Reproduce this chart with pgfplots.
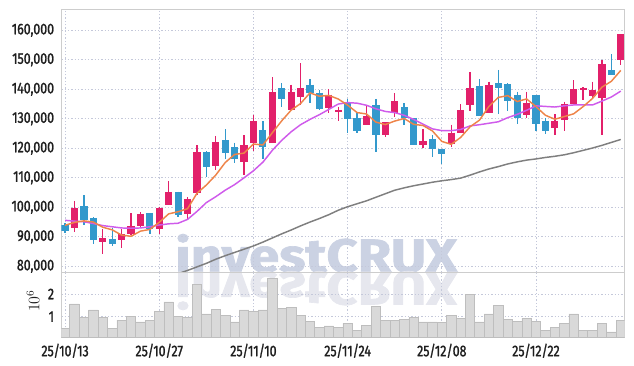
\documentclass[border=0pt]{standalone}
\usepackage{pgfplots}
\pgfplotsset{compat=1.18}
\usepackage{pgfplotstable}
\usepackage{graphicx}
\usepackage{fontspec}
\setmainfont{Fira Sans}[FakeStretch=0.8, FakeBold=1.4]

\definecolor{upc}{RGB}{226,32,106}
\definecolor{dnc}{RGB}{51,153,204}
\definecolor{maf}{RGB}{238,132,73}
\definecolor{mam}{RGB}{207,91,235}
\definecolor{mal}{RGB}{127,127,127}
\definecolor{volfill}{RGB}{217,217,217}
\definecolor{voldraw}{RGB}{190,190,190}
\definecolor{gridc}{RGB}{196,200,218}
\definecolor{framec}{RGB}{205,205,205}
\definecolor{labc}{RGB}{30,30,30}
\definecolor{wm}{RGB}{203,210,227}
\definecolor{wmr}{RGB}{230,231,238}

\pgfplotstableread{
i o h l c
1 93100 102200 91600 99800
4 88300 92500 84200 89600
6 89000 92500 86100 90900
7 91100 98000 90500 93700
8 93700 98400 93000 97700
10 92500 100200 91000 99800
11 100900 109000 100900 105200
13 97700 103400 96000 102800
14 105000 121000 104100 118700
16 114000 124200 112500 122100
19 115300 124400 111100 121000
20 121900 131400 119200 129200
22 121900 144100 121900 139100
24 133000 141600 133000 139100
25 137500 148800 134600 140400
28 133700 140000 131900 138200
29 132300 134100 129200 133000
32 127800 134800 127800 131000
34 124400 128900 123700 128900
35 131900 138600 130700 135900
38 121200 126400 120100 122400
41 121500 128000 120500 125300
42 125100 135000 125100 133000
43 134800 145900 132600 140400
45 132000 142600 132000 141400
49 131300 139200 130200 135400
52 126800 131500 124500 129300
53 129500 135800 125900 134900
54 135100 143100 135100 140100
55 139900 140700 136500 140500
56 137800 142600 137200 139700
57 137000 149800 124500 148500
59 150000 158600 148200 158600
}\upt

\pgfplotstableread{
i o h l c
0 93900 94600 91300 92100
2 100400 104100 93900 95700
3 96400 96700 87500 89000
5 89300 92900 86900 87700
9 98100 98100 91000 92500
12 105200 105300 96800 97300
15 118700 119000 110200 113800
17 122800 126400 116500 118500
18 120300 121900 114900 116500
21 126200 129200 116500 120500
23 140400 142000 133900 136800
26 141600 143400 135300 138600
27 138900 139800 133000 133400
30 135300 136800 125300 130000
31 130300 132300 125300 126000
33 134600 136800 118700 124400
36 133900 135300 128000 130300
37 130300 130300 121200 121200
39 123100 124400 117000 119700
40 119900 119900 114700 118100
44 141100 143400 131000 131000
46 142100 146600 131500 140500
47 141700 142000 132600 136000
48 138100 139200 128100 130400
50 138100 138100 125900 128300
51 129300 130200 125000 125900
58 146400 151900 144800 144800
}\dnt

\pgfplotsset{
  chartbase/.style={
    scale only axis, width=422.4pt,
    xmin=-0.4, xmax=59.4,
    xtick={0,10,20,30,40,50},
    grid=major,
    major grid style={draw=gridc, dash pattern=on 0.9pt off 1.6pt, line width=0.6pt},
    major tick length=0pt,
    axis line style={draw=framec, line width=0.6pt},
    ticklabel style={font=\fontsize{11.6}{11.6}\selectfont, text=labc, inner sep=0pt},
    yticklabel shift=5.25pt,
    xticklabel shift=4.6pt,
    scaled y ticks=false,
  },
  candle/.style 2 args={draw=none, no markers, forget plot,
    error bars/.cd, y dir=minus, y explicit, error mark=none,
    error bar style={draw=#1, solid, line width=#2}},
}

\begin{document}
\begin{tikzpicture}
\useasboundingbox (-46pt,-70.5pt) rectangle (429.5pt,204pt);
% watermark (background)
\node[anchor=base west, inner sep=0pt, text=wm] at (85.3pt,0pt)
  {\resizebox{211.5pt}{28.5pt}{\bfseries investCRUX}};
\node[anchor=base west, inner sep=0pt, text=wmr] at (85.3pt,0pt)
  {\scalebox{1}[-1]{\resizebox{211.5pt}{28.5pt}{\bfseries investCRUX}}};

\begin{axis}[
  chartbase,
  name=main, at={(0pt,0pt)}, anchor=south west,
  height=197pt,
  ymin=78070, ymax=167120,
  xticklabels={},
  ytick={80000,90000,100000,110000,120000,130000,140000,150000,160000},
  yticklabel={\pgfmathprintnumber[fixed,precision=0,1000 sep={,},assume math mode=true]{\tick}},
]
% wicks
\addplot[candle={upc}{1pt}]
  table[x=i, y=h, y error minus expr=\thisrow{h}-\thisrow{l}] {\upt};
\addplot[candle={dnc}{1pt}]
  table[x=i, y=h, y error minus expr=\thisrow{h}-\thisrow{l}] {\dnt};
% bodies
\addplot[candle={upc}{5.4pt}]
  table[x=i, y=c, y error minus expr=\thisrow{c}-\thisrow{o}] {\upt};
\addplot[candle={dnc}{5.4pt}]
  table[x=i, y=o, y error minus expr=\thisrow{o}-\thisrow{c}] {\dnt};
% moving averages
\addplot[mal, line width=1.1pt, mark=none] coordinates {
(12,77500) (13,78600) (14,79800) (15,81000) (16,82400) (17,83600) (18,84700) (19,85800)
(20,86900) (21,88200) (22,89600) (23,91000) (24,92300) (25,93700) (26,95000) (27,96200)
(28,97500) (29,99000) (30,100200) (31,101200) (32,102200) (33,103400) (34,104600) (35,105800)
(36,106600) (37,107300) (38,107900) (39,108500) (40,109000) (41,109400) (42,109900) (43,110900)
(44,112000) (45,113000) (46,113800) (47,114700) (48,115400) (49,116000) (50,116400) (51,116900)
(52,117300) (53,117800) (54,118500) (55,119300) (56,120100) (57,121000) (58,122000) (59,123000)
};
\addplot[mam, line width=1.1pt, mark=none] coordinates {
(0,95600) (1,95300) (2,95100) (3,94500) (4,93800) (5,93400) (6,93000) (7,92900) (8,93000) (9,93400)
(10,94000) (11,94400) (12,94600) (13,95900) (14,98600) (15,101600) (16,103600) (17,105800) (18,107700) (19,110000)
(20,112400) (21,115300) (22,119300) (23,122700) (24,125600) (25,128000) (26,129800) (27,131400) (28,133200) (29,135000)
(30,135500) (31,135300) (32,134600) (33,133400) (34,132500) (35,132100) (36,131200) (37,129800) (38,128200) (39,126600)
(40,126000) (41,126000) (42,126400) (43,127600) (44,128000) (45,128500) (46,129000) (47,130400) (48,131500) (49,132900)
(50,134400) (51,134200) (52,134000) (53,134400) (54,134700) (55,134700) (56,134700) (57,136000) (58,137400) (59,139400)
};
\addplot[maf, line width=1.1pt, mark=none] coordinates {
(0,93900) (1,94900) (2,95400) (3,95000) (4,93240) (5,92360) (6,90580) (7,90180) (8,91920) (9,92500)
(10,94920) (11,97780) (12,98500) (13,99520) (14,104760) (15,107560) (16,110940) (17,115180) (18,117920) (19,118380)
(20,121460) (21,121140) (22,125260) (23,129320) (24,132940) (25,135180) (26,138800) (27,137660) (28,137940) (29,136720)
(30,134640) (31,132120) (32,131640) (33,128880) (34,128060) (35,129240) (36,130100) (37,128140) (38,127740) (39,125900)
(40,122340) (41,121340) (42,123700) (43,127300) (44,129560) (45,134220) (46,137260) (47,137860) (48,135860) (49,136740)
(50,134120) (51,131200) (52,129860) (53,130760) (54,131700) (55,134140) (56,136900) (57,140740) (58,142720) (59,146420)
};
\end{axis}

\begin{axis}[
  chartbase,
  name=vol, at={(main.south west)}, anchor=north west,
  height=49pt,
  ymin=0.09, ymax=2.97,
  xticklabels={25/10/13,25/10/27,25/11/10,25/11/24,25/12/08,25/12/22},
  ytick={1,2}, yticklabels={1,2},
]
\addplot[ybar, bar width=1, bar shift=0pt, fill=volfill, draw=voldraw, line width=0.5pt] coordinates {
(0,0.50) (1,1.56) (2,0.97) (3,1.30) (4,0.97) (5,0.50) (6,0.85) (7,1.00) (8,0.77) (9,0.85)
(10,1.24) (11,1.65) (12,1.03) (13,0.97) (14,2.44) (15,1.12) (16,1.33) (17,1.06) (18,0.77) (19,1.30)
(20,1.24) (21,1.30) (22,2.70) (23,1.38) (24,1.41) (25,1.06) (26,0.80) (27,0.53) (28,0.59) (29,0.53)
(30,0.71) (31,0.41) (32,0.62) (33,1.47) (34,0.85) (35,0.85) (36,0.88) (37,0.97) (38,0.77) (39,0.77)
(40,0.74) (41,1.06) (42,0.94) (43,2.00) (44,0.77) (45,1.12) (46,1.50) (47,0.88) (48,0.80) (49,0.94)
(50,0.80) (51,0.38) (52,0.53) (53,0.71) (54,1.12) (55,0.41) (56,0.41) (57,0.71) (58,0.33) (59,0.85)
};
\end{axis}
\node[rotate=90, text=labc] at (-21.2pt,-21.75pt) {\fontsize{12}{12}\selectfont$10^6$};
\end{tikzpicture}
\end{document}
